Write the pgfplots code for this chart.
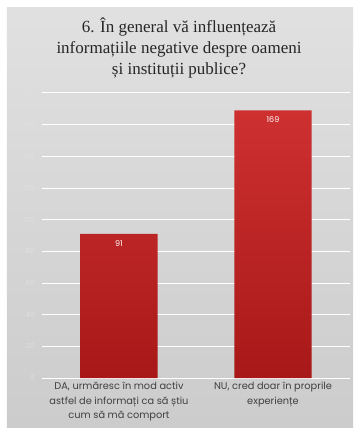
\documentclass[border=0pt]{standalone}
\usepackage{pgfplots}
\pgfplotsset{compat=1.18}
\usepackage{fontspec}
\setmainfont{Liberation Serif}
\newfontfamily\lab{Poppins}
\definecolor{bartop}{HTML}{CE3030}
\definecolor{barbot}{HTML}{A81818}
\begin{document}
\begin{tikzpicture}[x=1pt,y=1pt]
\fill[white] (-42,-51) rectangle (316,378);
\shade[top color=black!12, bottom color=black!20] (-35,-49) rectangle (311,370);
\begin{axis}[
  at={(0,0)}, anchor=south west,
  scale only axis, width=308pt, height=285pt,
  xmin=-0.5, xmax=1.5, ymin=0, ymax=180,
  ytick={0,20,...,180},
  xtick={0,1},
  xticklabels={{DA, urmăresc în mod activ\\astfel de informați ca să știu\\cum să mă comport},{NU, cred doar în proprile\\experiențe}},
  xticklabel style={font=\lab\fontsize{9.8}{14.5}\selectfont, text=black!75, align=center, yshift=-1pt},
  yticklabel style={font=\lab\fontsize{7}{7}\selectfont, text=white!88!black, xshift=-4pt},
  /pgf/number format/assume math mode=true,
  axis line style={draw=none},
  major tick length=0pt,
  ymajorgrids, grid style={white, line width=1pt},
  axis background/.style={fill=none},
  bar width=77pt,
  nodes near coords,
  every node near coord/.append style={font=\lab\fontsize{8}{8}\selectfont, text=white, anchor=north, yshift=-3pt},
  clip=false,
]
\addplot[ybar, draw=none, top color=bartop, bottom color=barbot] coordinates {(0,91) (1,169)};
\end{axis}
\node[font=\fontsize{17}{21}\selectfont, align=center, text=black!85, anchor=north] at (137,364) {6. În general vă influențează\\informațiile negative despre oameni\\și instituții publice?};
\end{tikzpicture}
\end{document}
